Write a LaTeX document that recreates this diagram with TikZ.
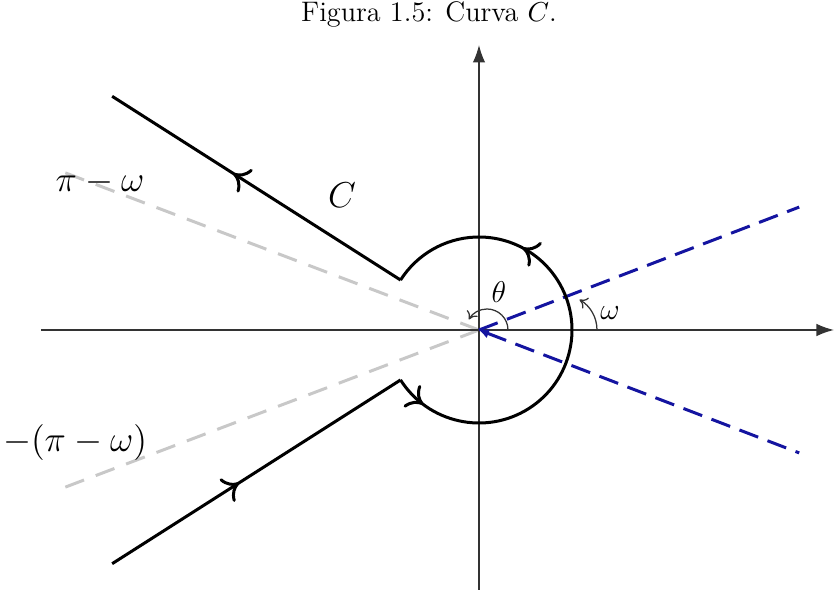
\documentclass[tikz,border=0pt]{standalone}
\usetikzlibrary{arrows.meta,decorations.markings}
\definecolor{raydarkblue}{RGB}{20,20,160}
\definecolor{raygray}{RGB}{200,200,200}
\begin{document}
\begin{tikzpicture}[
    x=0.4pt, y=0.4pt,
    >={Computer Modern Rightarrow[length=6pt,width=11pt]},
    axis/.style={line width=0.6pt, black!80, -{Latex[length=7pt,width=5pt]}},
    contour/.style={line width=1.2pt, black},
    bluray/.style={line width=1.2pt, raydarkblue, dash pattern=on 8pt off 4pt},
    grayray/.style={line width=1.2pt, raygray, dash pattern=on 8pt off 5pt},
    anglearc/.style={line width=0.5pt, black!80, -{To[length=3pt,width=5pt]}},
    mid arrow/.style={postaction={decorate}, decoration={markings, mark=at position #1 with {\arrow{>}}}},
    lab/.style={font=\Large},
]
\useasboundingbox (-479,-261) rectangle (355,330);

% caption
\node[font=\fontsize{11.3}{13}\selectfont] (caption) at (-50,316) {Figura 1.5: Curva $C$.};

% rays at +-(pi-omega)
\draw[grayray] (0,0) -- (159.2:446);
\draw[grayray] (0,0) -- (200.8:446);

% axes
\draw[axis] (0,-260) -- (0,285);
\draw[axis] (-438,0) -- (355,0);

% rays at +-omega
\draw[bluray] (0,0) -- (21:343);
\draw[bluray, {Latex[length=4pt,width=4pt]}-] (0,0) -- (-21:343);

% curve C
\draw[contour, mid arrow=0.44] (212.5:435) -- (212.5:93);
\draw[contour, postaction={decorate}, decoration={markings,
    mark=at position 0.07 with {\arrow{>}},
    mark=at position 0.71 with {\arrow{>}}}]
    (212.5:93) arc[start angle=212.5, end angle=507.5, radius=93];
\draw[contour, mid arrow=0.58] (147.5:93) -- (147.5:435);

% angles
\draw[anglearc] (29,0) arc[start angle=0, end angle=150, radius=21];
\draw[anglearc] (118,0) arc[start angle=0, end angle=60, radius=35];

% labels
\node[lab] (cname) at (-137,135) {$C$};
\node[lab] (pimw) at (-379,147) {$\pi-\omega$};
\node[lab] (mpimw) at (-404,-113) {$-(\pi-\omega)$};
\node[font=\large] (thetalab) at (20,38) {$\theta$};
\node[font=\large] (omegalab) at (131,17) {$\omega$};
\end{tikzpicture}
\end{document}
